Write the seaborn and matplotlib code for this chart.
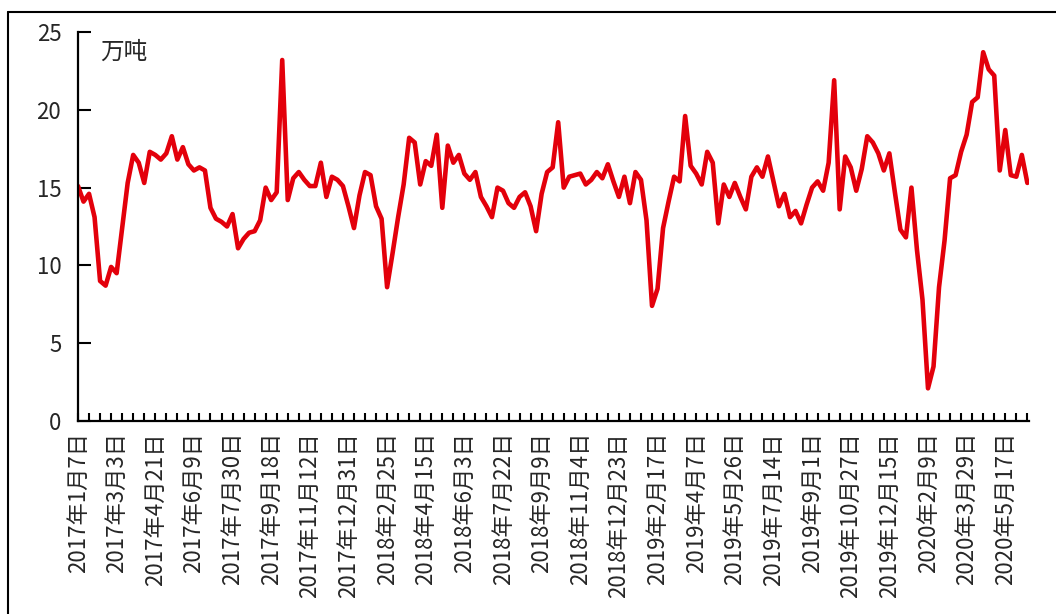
import matplotlib.pyplot as plt
import seaborn as sns
import pandas as pd
from matplotlib.lines import Line2D

# weekly output, 万吨
tons = [
    15.1, 14.1, 14.6, 13.1, 9.0, 8.7, 9.9, 9.5, 12.4, 15.3,
    17.1, 16.6, 15.3, 17.3, 17.1, 16.8, 17.2, 18.3, 16.8, 17.6,
    16.5, 16.1, 16.3, 16.1, 13.7, 13.0, 12.8, 12.5, 13.3, 11.1,
    11.7, 12.1, 12.2, 12.9, 15.0, 14.2, 14.7, 23.2, 14.2, 15.6,
    16.0, 15.5, 15.1, 15.1, 16.6, 14.4, 15.7, 15.5, 15.1, 13.8,
    12.4, 14.5, 16.0, 15.8, 13.8, 13.0, 8.6, 10.8, 13.1, 15.2,
    18.2, 17.9, 15.2, 16.7, 16.4, 18.4, 13.7, 17.7, 16.6, 17.1,
    15.9, 15.5, 16.0, 14.4, 13.8, 13.1, 15.0, 14.8, 14.0, 13.7,
    14.4, 14.7, 13.8, 12.2, 14.6, 16.0, 16.3, 19.2, 15.0, 15.7,
    15.8, 15.9, 15.2, 15.5, 16.0, 15.6, 16.5, 15.4, 14.4, 15.7,
    14.0, 16.0, 15.5, 12.9, 7.4, 8.5, 12.4, 14.1, 15.7, 15.4,
    19.6, 16.4, 15.9, 15.2, 17.3, 16.6, 12.7, 15.2, 14.4, 15.3,
    14.4, 13.6, 15.7, 16.3, 15.7, 17.0, 15.4, 13.8, 14.6, 13.1,
    13.5, 12.7, 13.9, 15.0, 15.4, 14.8, 16.6, 21.9, 13.6, 17.0,
    16.3, 14.8, 16.2, 18.3, 17.9, 17.2, 16.1, 17.2, 14.7, 12.3,
    11.8, 15.0, 11.0, 7.8, 2.1, 3.5, 8.6, 11.6, 15.6, 15.8,
    17.3, 18.4, 20.5, 20.8, 23.7, 22.6, 22.2, 16.1, 18.7, 15.8,
    15.7, 17.1, 15.3,
]

# one label every 7 weeks
date_labels = [
    "2017年1月7日", "2017年3月3日", "2017年4月21日", "2017年6月9日",
    "2017年7月30日", "2017年9月18日", "2017年11月12日", "2017年12月31日",
    "2018年2月25日", "2018年4月15日", "2018年6月3日", "2018年7月22日",
    "2018年9月9日", "2018年11月4日", "2018年12月23日", "2019年2月17日",
    "2019年4月7日", "2019年5月26日", "2019年7月14日", "2019年9月1日",
    "2019年10月27日", "2019年12月15日", "2020年2月9日", "2020年3月29日",
    "2020年5月17日",
]
y_ticks = [0, 5, 10, 15, 20, 25]

df = pd.DataFrame({"week": range(len(tons)), "tons": tons})

sns.set_style("white")
plt.rcParams['font.family'] = ['Noto Sans CJK SC', 'DejaVu Sans']

fig = plt.figure(figsize=(10.56, 6.14), dpi=100)
ax = fig.add_axes([78 / 1056, 1 - 421 / 614, (1029 - 78) / 1056, (421 - 32) / 614])

sns.lineplot(data=df, x="week", y="tons", ax=ax, color="#E3000B", linewidth=3.3)

ax.set_xlim(0, len(tons) - 0.7)
ax.set_ylim(0, 25)
ax.set_yticks(y_ticks)
ax.set_xticks(range(0, len(tons), 7))
ax.set_xticklabels(date_labels, rotation=90, fontsize=16)
ax.set_xticks(range(0, len(tons), 2), minor=True)
ax.xaxis.remove_overlapping_locs = False
ax.tick_params(axis='x', which='major', bottom=True, length=0, pad=8)
ax.tick_params(axis='x', which='minor', bottom=True, direction='in', length=6, width=1.5, color='black')
ax.tick_params(axis='y', left=True, direction='in', length=9, width=1.5, pad=12, labelsize=16, color='black')
ax.set_xlabel('')
ax.set_ylabel('')

for side in ['top', 'right']:
    ax.spines[side].set_visible(False)
for side in ['left', 'bottom']:
    ax.spines[side].set_color('black')
    ax.spines[side].set_linewidth(1.6)

ax.text(0.023, 0.948, '万吨', transform=ax.transAxes, fontsize=17, va='center')

# chart frame (cut off on the right and bottom)
fig.add_artist(Line2D([8 / 1056, 1], [1 - 12 / 614, 1 - 12 / 614], color='black', linewidth=1.5))
fig.add_artist(Line2D([8 / 1056, 8 / 1056], [0, 1 - 12 / 614], color='black', linewidth=1.5))

plt.savefig("out.png", dpi=100)
